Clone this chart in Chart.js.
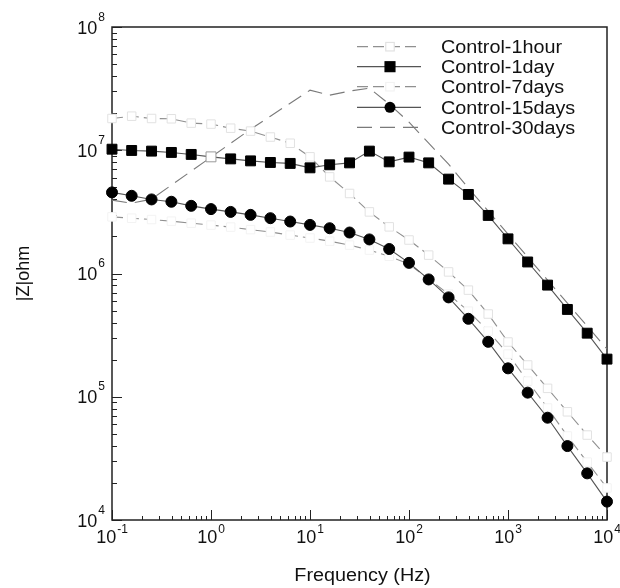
<!DOCTYPE html>
<html>
<head>
<meta charset="utf-8">
<script src="https://cdn.jsdelivr.net/npm/chart.js@4.4.1/dist/chart.umd.min.js"></script>
<style>
  html, body { margin: 0; background: #fff; }
  #wrap { width: 620px; height: 588px; position: relative; }
</style>
</head>
<body>
<div id="wrap"><canvas id="chartZ"></canvas></div>
<script>
// DATA
const freqHz = [0.1, 0.158, 0.251, 0.398, 0.631, 1, 1.58, 2.51, 3.98, 6.31,
                10, 15.8, 25.1, 39.8, 63.1, 100, 158, 251, 398, 631,
                1000, 1580, 2510, 3980, 6310, 10000];

const z1hour = [1.81e7, 1.89e7, 1.81e7, 1.80e7, 1.66e7, 1.63e7, 1.51e7, 1.43e7, 1.28e7, 1.14e7,
                8.84e6, 6.08e6, 4.46e6, 3.16e6, 2.39e6, 1.87e6, 1.41e6, 1.03e6, 7.33e5, 4.69e5,
                2.78e5, 1.81e5, 1.17e5, 7.55e4, 4.89e4, 3.24e4];

const z1day = [1.02e7, 9.96e6, 9.84e6, 9.6e6, 9.25e6, 8.84e6, 8.51e6, 8.2e6, 7.96e6, 7.82e6,
               7.2e6, 7.62e6, 7.9e6, 9.84e6, 8.05e6, 8.8e6, 7.9e6, 5.83e6, 4.38e6, 2.96e6,
               1.91e6, 1.24e6, 8.05e5, 5.11e5, 3.28e5, 2.02e5];

const z7days = [2.88e6, 2.81e6, 2.74e6, 2.66e6, 2.56e6, 2.47e6, 2.38e6, 2.27e6, 2.17e6, 2.05e6,
                1.94e6, 1.83e6, 1.70e6, 1.55e6, 1.38e6, 1.19e6, 9.01e5, 6.81e5, 4.95e5, 3.41e5,
                2.22e5, 1.34e5, 8.1e4, 4.8e4, 2.95e4, 1.82e4];

const z15days = [4.55e6, 4.27e6, 3.99e6, 3.82e6, 3.54e6, 3.33e6, 3.16e6, 2.99e6, 2.81e6, 2.64e6,
                 2.48e6, 2.33e6, 2.15e6, 1.89e6, 1.58e6, 1.22e6, 8.95e5, 6.4e5, 4.29e5, 2.79e5,
                 1.7e5, 1.08e5, 6.76e4, 3.98e4, 2.39e4, 1.41e4];

const z30days = [3.94e6, 3.72e6, 4.01e6, 5.21e6, 6.77e6, 8.79e6, 1.14e7, 1.48e7, 1.89e7, 2.41e7,
                 3.07e7, 2.80e7, 3.02e7, 3.19e7, 2.37e7, 1.69e7, 1.14e7, 7.71e6, 4.93e6, 3.21e6,
                 2.09e6, 1.36e6, 8.84e5, 5.75e5, 3.74e5, 2.44e5];

const xTickValues = [0.1, 1, 10, 100, 1000, 10000];
const xTickExps = ['-1', '0', '1', '2', '3', '4'];
const yTickValues = [1e4, 1e5, 1e6, 1e7, 1e8];
const yTickExps = ['4', '5', '6', '7', '8'];

const xTitle = 'Frequency (Hz)';
const yTitle = '|Z|ohm';

// fonts
const FONT_MAIN = '18px "Liberation Sans", Arial, sans-serif';
const FONT_EXP = '12px "Liberation Sans", Arial, sans-serif';
const STRETCH = 1.1;   // reference text is a bit wider than Arial

function toPoints(vals) {
    return freqHz.map((f, i) => ({ x: f, y: vals[i] }));
}

// --------------------------------------------------------
// series
// --------------------------------------------------------
const series = [
    { label: 'Control-1hour', data: z1hour, color: '#909090', dash: [11, 5],
      style: 'rect', radius: 6, fill: '#fff', edge: '#e2e2e2', order: 3 },
    { label: 'Control-1day', data: z1day, color: '#555', dash: [],
      style: 'rect', radius: 7, fill: '#000', edge: '#000', order: 1 },
    { label: 'Control-7days', data: z7days, color: '#909090', dash: [11, 5],
      style: 'rect', radius: 6, fill: '#fff', edge: '#f3f3f3', order: 4 },
    { label: 'Control-15days', data: z15days, color: '#555', dash: [],
      style: 'circle', radius: 5.5, fill: '#000', edge: '#000', order: 2 },
    { label: 'Control-30days', data: z30days, color: '#7a7a7a', dash: [15, 8],
      style: false, radius: 0, fill: '#fff', edge: '#fff', order: 5 }
];

// --------------------------------------------------------
// helpers for custom text
// --------------------------------------------------------
function stretchText(ctx, str, x, y, sx) {
    ctx.save();
    ctx.translate(x, y);
    ctx.scale(sx, 1);
    ctx.fillText(str, 0, 0);
    ctx.restore();
}

function drawPower(ctx, exp, x, baseY, anchor, expRise) {
    ctx.font = FONT_MAIN;
    const wBase = ctx.measureText('10').width;
    ctx.font = FONT_EXP;
    const wExp = ctx.measureText(exp).width;
    const total = wBase + 1 + wExp;
    const left = anchor === 'center' ? x - total / 2 : x - total;
    ctx.textAlign = 'left';
    ctx.textBaseline = 'alphabetic';
    ctx.font = FONT_MAIN;
    ctx.fillText('10', left, baseY);
    ctx.font = FONT_EXP;
    ctx.fillText(exp, left + wBase + 1, baseY - expRise);
}

// frame + inward ticks + labels
const axesDecor = {
    id: 'axesDecor',
    beforeDatasetsDraw(chart) {
        const { ctx, chartArea: a, scales: { x, y } } = chart;
        ctx.save();
        ctx.strokeStyle = '#222';
        ctx.lineWidth = 1.5;
        ctx.strokeRect(a.left, a.top, a.right - a.left, a.bottom - a.top);

        ctx.lineWidth = 1;
        ctx.beginPath();
        for (let e = -1; e <= 4; e++) {
            for (let m = 1; m <= 9; m++) {
                const v = m * Math.pow(10, e);
                if (v > 10000 * 1.0001) break;
                const px = Math.round(x.getPixelForValue(v)) + 0.5;
                const len = m === 1 ? 10 : 4;
                ctx.moveTo(px, a.bottom);
                ctx.lineTo(px, a.bottom - len);
            }
        }
        for (let e = 4; e <= 8; e++) {
            for (let m = 1; m <= 9; m++) {
                const v = m * Math.pow(10, e);
                if (v > 1e8 * 1.0001) break;
                const py = Math.round(y.getPixelForValue(v)) + 0.5;
                const len = m === 1 ? 10 : 5;
                ctx.moveTo(a.left, py);
                ctx.lineTo(a.left + len, py);
            }
        }
        ctx.stroke();
        ctx.restore();
    },
    afterDraw(chart) {
        const { ctx, chartArea: a, scales: { x, y } } = chart;
        ctx.save();
        ctx.fillStyle = '#111';

        xTickValues.forEach((v, i) => {
            drawPower(ctx, xTickExps[i], x.getPixelForValue(v), a.bottom + 23, 'center', 10);
        });
        yTickValues.forEach((v, i) => {
            drawPower(ctx, yTickExps[i], a.left - 7, y.getPixelForValue(v) + 6.5, 'right', 13);
        });

        // axis titles
        ctx.font = FONT_MAIN;
        ctx.textAlign = 'center';
        ctx.textBaseline = 'alphabetic';
        stretchText(ctx, xTitle, (a.left + a.right) / 2 + 3, 581, STRETCH);

        ctx.save();
        ctx.translate(29, (a.top + a.bottom) / 2);
        ctx.rotate(-Math.PI / 2);
        ctx.fillText(yTitle, 0, 0);
        ctx.restore();

        // legend inside the plot, top right
        const rowY = [46.7, 66.7, 86.7, 107.3, 127.3];
        series.forEach((s, i) => {
            const cy = rowY[i];
            ctx.save();
            ctx.strokeStyle = s.color;
            ctx.lineWidth = 1.2;
            ctx.setLineDash(s.dash);
            ctx.beginPath();
            ctx.moveTo(357, cy);
            ctx.lineTo(421, cy);
            ctx.stroke();
            ctx.setLineDash([]);
            if (s.style === 'rect') {
                const side = s.radius * Math.SQRT1_2 * 2;
                ctx.fillStyle = s.fill;
                ctx.strokeStyle = s.edge;
                ctx.fillRect(390 - side / 2, cy - side / 2, side, side);
                ctx.strokeRect(390 - side / 2, cy - side / 2, side, side);
            } else if (s.style === 'circle') {
                ctx.fillStyle = s.fill;
                ctx.beginPath();
                ctx.arc(390, cy, s.radius, 0, Math.PI * 2);
                ctx.fill();
            }
            ctx.restore();

            ctx.font = FONT_MAIN;
            ctx.textAlign = 'left';
            ctx.textBaseline = 'alphabetic';
            ctx.fillStyle = '#111';
            stretchText(ctx, s.label, 441, cy + 6.5, STRETCH);
        });

        ctx.restore();
    }
};

// --------------------------------------------------------
// chart
// --------------------------------------------------------
const ctxZ = document.getElementById('chartZ').getContext('2d');

const chartZ = new Chart(ctxZ, {
    type: 'line',
    data: {
        datasets: series.map(s => ({
            label: s.label,
            data: toPoints(s.data),
            order: s.order,
            borderColor: s.color,
            borderWidth: 1.1,
            borderDash: s.dash,
            tension: 0,
            fill: false,
            clip: false,
            pointStyle: s.style,
            pointRadius: s.radius,
            pointBorderWidth: 1,
            // the 1day point at 1 Hz shows up hollow in the reference
            pointBackgroundColor: c => (s.label === 'Control-1day' && c.dataIndex === 5) ? '#fff' : s.fill,
            pointBorderColor: c => (s.label === 'Control-1day' && c.dataIndex === 5) ? '#999' : s.edge
        }))
    },
    options: {
        responsive: true,
        maintainAspectRatio: false,
        animation: false,
        layout: { padding: { left: 112, right: 13, top: 27, bottom: 68 } },
        plugins: {
            legend: { display: false },
            tooltip: { enabled: false }
        },
        scales: {
            x: { type: 'logarithmic', min: 0.1, max: 10000, display: false },
            y: { type: 'logarithmic', min: 1e4, max: 1e8, display: false }
        }
    },
    plugins: [axesDecor]
});
</script>
</body>
</html>
